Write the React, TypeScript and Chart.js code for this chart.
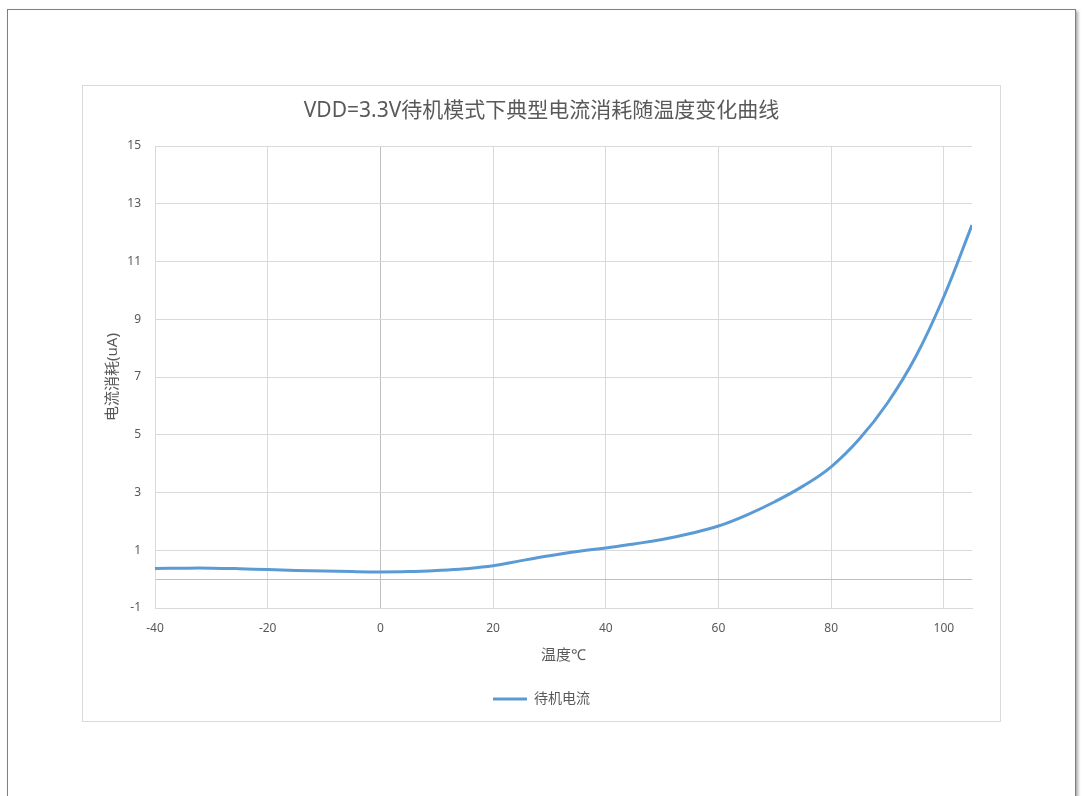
import { useEffect, useRef } from 'react';
import { Chart, registerables } from 'chart.js';

Chart.register(...registerables);

const FONT = '"Noto Sans", "Noto Sans CJK SC", sans-serif';
const TEXT_COLOR = '#595959';
const GRID_COLOR = '#d9d9d9';
const ZERO_COLOR = '#bfbfbf';
const LINE_COLOR = '#5b9bd5';

const chartTitle = 'VDD=3.3V待机模式下典型电流消耗随温度变化曲线';
const xTitle = '温度℃';
const yTitle = '电流消耗(uA)';
const seriesName = '待机电流';

const temperatures = [
  -40, -35, -30, -25, -20, -15, -10, -5, 0, 5, 10, 15, 20, 25, 30, 35, 40, 45, 50, 55,
  60, 65, 70, 75, 80, 85, 90, 95, 100, 105,
];
const standbyCurrent = [
  0.37, 0.38, 0.38, 0.36, 0.33, 0.3, 0.28, 0.26, 0.25, 0.26, 0.3, 0.36, 0.46, 0.64, 0.81,
  0.96, 1.08, 1.22, 1.37, 1.58, 1.84, 2.22, 2.68, 3.22, 3.89, 4.85, 6.1, 7.7, 9.78, 12.26,
];

const xTicks = [-40, -20, 0, 20, 40, 60, 80, 100];
const yTicks = [-1, 0, 1, 3, 5, 7, 9, 11, 13, 15];
const yLabelled = [-1, 1, 3, 5, 7, 9, 11, 13, 15];

const X_MIN = -40;
const X_MAX = 105;
const Y_MIN = -1;
const Y_MAX = 15;

export default function App() {
  const canvasRef = useRef<HTMLCanvasElement | null>(null);

  useEffect(() => {
    if (!canvasRef.current) return;
    const gridColor = (ctx: any) =>
      ctx.tick && ctx.tick.value === 0 ? ZERO_COLOR : GRID_COLOR;

    const chart = new Chart(canvasRef.current, {
      type: 'line',
      data: {
        datasets: [
          {
            label: seriesName,
            data: temperatures.map((t, i) => ({ x: t, y: standbyCurrent[i] })),
            borderColor: LINE_COLOR,
            backgroundColor: LINE_COLOR,
            borderWidth: 3,
            pointRadius: 0,
            pointHoverRadius: 0,
            pointStyle: 'line',
            tension: 0.4,
            fill: false,
            yAxisID: 'y',
          },
        ],
      },
      options: {
        animation: false,
        responsive: true,
        maintainAspectRatio: false,
        layout: { padding: { left: 0, right: 0, top: 0, bottom: 5 } },
        plugins: {
          title: {
            display: true,
            text: chartTitle,
            color: TEXT_COLOR,
            font: { size: 21, family: FONT, weight: 'normal' },
            padding: { top: 12.4, bottom: 22.4 },
          },
          legend: {
            position: 'bottom',
            labels: {
              usePointStyle: true,
              pointStyle: 'line',
              pointStyleWidth: 34,
              color: TEXT_COLOR,
              font: { size: 14, family: FONT },
              padding: 10,
            },
          },
          tooltip: { enabled: false },
        },
        scales: {
          x: {
            type: 'linear',
            min: X_MIN,
            max: X_MAX,
            afterBuildTicks: (s: any) => {
              s.ticks = xTicks.map((v) => ({ value: v }));
            },
            afterFit: (s: any) => {
              s.height = 74;
            },
            grid: { color: gridColor, lineWidth: 1, drawTicks: false },
            border: { display: true, color: GRID_COLOR },
            ticks: {
              color: TEXT_COLOR,
              font: { size: 12, family: FONT },
              padding: 13,
              maxRotation: 0,
              autoSkip: false,
            },
            title: {
              display: true,
              text: xTitle,
              color: TEXT_COLOR,
              font: { size: 15, family: FONT },
              padding: { top: 0, bottom: 17 },
            },
          },
          y: {
            type: 'linear',
            position: 'left',
            min: Y_MIN,
            max: Y_MAX,
            afterBuildTicks: (s: any) => {
              s.ticks = yTicks.map((v) => ({ value: v }));
            },
            afterFit: (s: any) => {
              s.width = 72;
            },
            grid: { color: gridColor, lineWidth: 1, drawTicks: false },
            border: { display: true, color: GRID_COLOR },
            ticks: {
              color: TEXT_COLOR,
              font: { size: 12, family: FONT },
              padding: 14,
              autoSkip: false,
              callback: (v: any) => (yLabelled.includes(Number(v)) ? String(v) : ''),
            },
            title: {
              display: true,
              text: yTitle,
              color: TEXT_COLOR,
              font: { size: 15, family: FONT },
              padding: { top: 20.5, bottom: 0 },
            },
          },
          ySpacer: {
            type: 'linear',
            position: 'right',
            display: true,
            grid: { display: false, drawTicks: false },
            border: { display: false },
            ticks: { display: false },
            afterFit: (s: any) => {
              s.width = 28;
            },
          },
        },
      },
    });
    return () => chart.destroy();
  }, []);

  return (
    <div style={{ position: 'fixed', inset: 0, background: '#fff', overflow: 'hidden' }}>
      <div
        style={{
          position: 'absolute',
          left: 7,
          top: 9,
          width: 1069,
          height: 900,
          boxSizing: 'border-box',
          border: '1px solid #808080',
          boxShadow: '2px 2px 3px rgba(0,0,0,0.35)',
          background: '#fff',
        }}
      />
      <div
        style={{
          position: 'absolute',
          left: 82,
          top: 85,
          width: 919,
          height: 637,
          boxSizing: 'border-box',
          border: '1px solid #d9d9d9',
          background: '#fff',
        }}
      >
        <div style={{ position: 'relative', width: 917, height: 635 }}>
          <canvas ref={canvasRef} />
        </div>
      </div>
    </div>
  );
}
